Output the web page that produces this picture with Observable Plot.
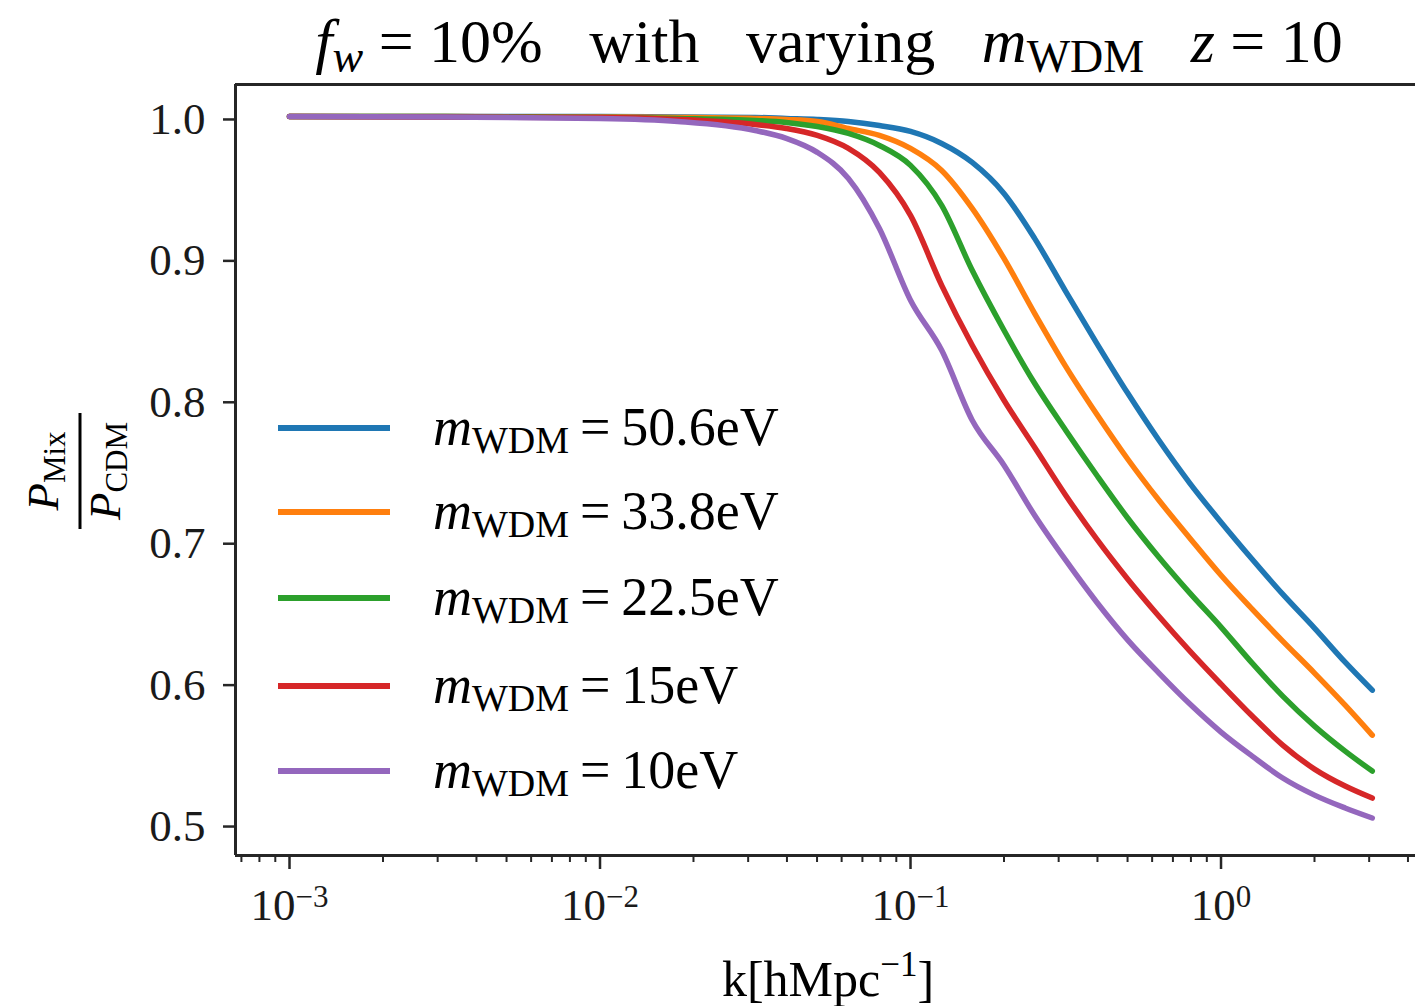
<!DOCTYPE html>
<html>
<head>
<meta charset="utf-8">
<script src="https://cdn.jsdelivr.net/npm/d3@7"></script>
<script src="https://cdn.jsdelivr.net/npm/@observablehq/plot@0.6"></script>
<style>
  html, body { margin: 0; padding: 0; background: #fff; }
  #chart { position: relative; width: 1415px; height: 1006px; overflow: hidden; }
</style>
</head>
<body>
<div id="chart"></div>
<script>
// ---- data ----
const kValues = [0.001, 0.00316, 0.01, 0.0178, 0.0316, 0.0398, 0.0501, 0.0631, 0.0794, 0.1, 0.126, 0.158, 0.2, 0.251, 0.316, 0.398, 0.501, 0.631, 0.794, 1.0, 1.26, 1.58, 2.0, 2.51, 3.07];
const ratio_50_6 = [1.000, 1.000, 1.000, 0.9996, 0.9993, 0.9986, 0.9979, 0.9965, 0.9936, 0.9894, 0.9809, 0.9675, 0.9456, 0.9138, 0.8763, 0.8396, 0.8042, 0.7710, 0.7406, 0.7131, 0.6869, 0.6622, 0.6382, 0.6141, 0.5943];
const ratio_33_8 = [1.000, 1.000, 0.9996, 0.9993, 0.9986, 0.9979, 0.9965, 0.9915, 0.9866, 0.9774, 0.9618, 0.9350, 0.8996, 0.8608, 0.8233, 0.7894, 0.7576, 0.7286, 0.7018, 0.6756, 0.6516, 0.6290, 0.6064, 0.5837, 0.5625];
const ratio_22_5 = [1.000, 1.000, 0.9993, 0.9986, 0.9972, 0.9958, 0.9929, 0.9880, 0.9795, 0.9654, 0.9371, 0.8912, 0.8488, 0.8113, 0.7781, 0.7463, 0.7159, 0.6883, 0.6629, 0.6389, 0.6134, 0.5901, 0.5689, 0.5512, 0.5371];
const ratio_15 = [1.000, 0.9996, 0.9993, 0.9979, 0.9943, 0.9915, 0.9866, 0.9774, 0.9604, 0.9300, 0.8806, 0.8382, 0.7993, 0.7661, 0.7322, 0.7011, 0.6728, 0.6466, 0.6219, 0.5986, 0.5760, 0.5555, 0.5385, 0.5265, 0.5180];
const ratio_10 = [1.000, 0.9996, 0.9986, 0.9965, 0.9901, 0.9845, 0.9746, 0.9562, 0.9208, 0.8700, 0.8346, 0.7852, 0.7534, 0.7180, 0.6862, 0.6565, 0.6297, 0.6064, 0.5845, 0.5647, 0.5477, 0.5322, 0.5201, 0.5110, 0.5039];

const seriesLabels = ["50.6eV", "33.8eV", "22.5eV", "15eV", "10eV"];
const seriesValues = [ratio_50_6, ratio_33_8, ratio_22_5, ratio_15, ratio_10];
const seriesColors = ["#1f77b4", "#ff7f0e", "#2ca02c", "#d62728", "#9467bd"];

const xMajorTicks = [1e-3, 1e-2, 1e-1, 1e0];
const xMinorTicks = [7e-4, 8e-4, 9e-4,
  2e-3, 3e-3, 4e-3, 5e-3, 6e-3, 7e-3, 8e-3, 9e-3,
  2e-2, 3e-2, 4e-2, 5e-2, 6e-2, 7e-2, 8e-2, 9e-2,
  2e-1, 3e-1, 4e-1, 5e-1, 6e-1, 7e-1, 8e-1, 9e-1,
  2, 3, 4];
const yTicks = [0.5, 0.6, 0.7, 0.8, 0.9, 1.0];
const xDomain = [6.70e-4, 4.23];
const yDomain = [0.4774, 1.0226];

// ---- build long table ----
const rows = [];
seriesValues.forEach((vals, i) => {
  vals.forEach((v, j) => rows.push({ series: seriesLabels[i], k: kValues[j], ratio: v }));
});

const FONT = "'Liberation Serif', 'Times New Roman', serif";
const INK = "#1a1a1a";
const SPINE = "#262626";

const chart = Plot.plot({
  width: 1415,
  height: 1006,
  marginTop: 84,
  marginBottom: 151,
  marginLeft: 235,
  marginRight: 0,
  style: { fontFamily: FONT, background: "white", color: INK },
  x: { type: "log", domain: xDomain, label: null },
  y: { domain: yDomain, label: null },
  color: { domain: seriesLabels, range: seriesColors },
  marks: [
    // frame (left, top, bottom spines; right spine is outside the picture)
    Plot.ruleX([xDomain[0]], { stroke: SPINE, strokeWidth: 3 }),
    Plot.ruleY([yDomain[1]], { stroke: SPINE, strokeWidth: 3 }),
    Plot.ruleY([yDomain[0]], { stroke: SPINE, strokeWidth: 3 }),
    // curves
    ...seriesLabels.map((s) =>
      Plot.line(rows.filter((d) => d.series === s), {
        x: "k", y: "ratio", stroke: "series", strokeWidth: 5.5, curve: "monotone-x"
      })
    ),
    // axes
    Plot.axisY({ ticks: yTicks, anchor: "left", tickSize: 12, tickPadding: 18, fontSize: 45,
      tickFormat: (d) => d.toFixed(1), strokeWidth: 2.5, stroke: SPINE, fill: INK, dy: 3, label: null }),
    Plot.axisX({ ticks: xMinorTicks, anchor: "bottom", tickSize: 7, tickFormat: () => "",
      strokeWidth: 2, stroke: SPINE, label: null }),
    Plot.axisX({ ticks: xMajorTicks, anchor: "bottom", tickSize: 14, tickPadding: 19, fontSize: 45,
      tickFormat: (d) => "10^" + Math.round(Math.log10(d)), strokeWidth: 2.5, stroke: SPINE, fill: INK, label: null })
  ]
});

document.getElementById("chart").appendChild(chart);

const svg = d3.select(chart);

// superscript exponents on x tick labels
svg.selectAll('g[aria-label="x-axis tick label"] text').each(function () {
  const t = d3.select(this);
  const s = t.text();
  if (!s.includes("^")) return;
  const [base, exp] = s.split("^");
  t.text("");
  t.append("tspan").text(base);
  t.append("tspan").attr("font-size", 31).attr("dy", "-0.45em").text(exp.replace("-", "\u2212"));
});

// ---- title ----
const title = svg.append("text")
  .attr("x", 829).attr("y", 62)
  .attr("text-anchor", "middle")
  .attr("font-family", FONT).attr("font-size", 62).attr("fill", "#000")
  .attr("xml:space", "preserve");
title.append("tspan").attr("font-style", "italic").text("f");
title.append("tspan").attr("font-style", "italic").attr("font-size", 46).attr("dy", 10).text("w");
title.append("tspan").attr("dy", -10).text("\u2005=\u200510%\u2002\u2005with\u2002\u2005varying\u2002\u2005");
title.append("tspan").attr("font-style", "italic").text("m");
title.append("tspan").attr("font-size", 46).attr("dy", 10).text("WDM");
title.append("tspan").attr("dy", -10).text("\u2002\u2005");
title.append("tspan").attr("font-style", "italic").text("z");
title.append("tspan").text("\u2005=\u200510");

// ---- y label: P_Mix / P_CDM, rotated ----
const yl = svg.append("g").attr("transform", "translate(80,471) rotate(-90)")
  .attr("font-family", FONT).attr("fill", "#000");
const num = yl.append("text").attr("x", 0).attr("y", -22).attr("text-anchor", "middle").attr("font-size", 45);
num.append("tspan").attr("font-style", "italic").text("P");
num.append("tspan").attr("font-size", 31).attr("dy", 7).text("Mix");
yl.append("line").attr("x1", -58).attr("x2", 58).attr("y1", 0).attr("y2", 0)
  .attr("stroke", "#000").attr("stroke-width", 3);
const den = yl.append("text").attr("x", 0).attr("y", 40).attr("text-anchor", "middle").attr("font-size", 45);
den.append("tspan").attr("font-style", "italic").text("P");
den.append("tspan").attr("font-size", 31).attr("dy", 7).text("CDM");

// ---- x label ----
const xl = svg.append("text").attr("x", 828).attr("y", 996).attr("text-anchor", "middle")
  .attr("font-family", FONT).attr("font-size", 50).attr("fill", "#000");
xl.append("tspan").text("k[hMpc");
xl.append("tspan").attr("font-size", 35).attr("dy", -20).text("\u22121");
xl.append("tspan").attr("dy", 20).text("]");

// ---- legend ----
const legendY = [428, 512, 598, 686, 771];
const lg = svg.append("g").attr("font-family", FONT).attr("fill", "#000").attr("text-anchor", "start");
seriesLabels.forEach((s, i) => {
  const y = legendY[i];
  lg.append("line").attr("x1", 278).attr("x2", 390).attr("y1", y).attr("y2", y)
    .attr("stroke", seriesColors[i]).attr("stroke-width", 6);
  const t = lg.append("text").attr("x", 433).attr("y", y + 17).attr("font-size", 54)
    .attr("text-anchor", "start").attr("xml:space", "preserve");
  t.append("tspan").attr("font-style", "italic").text("m");
  t.append("tspan").attr("font-size", 38).attr("dy", 8).text("WDM");
  t.append("tspan").attr("dy", -8).text("\u2009=\u2009" + s);
});
</script>
</body>
</html>
